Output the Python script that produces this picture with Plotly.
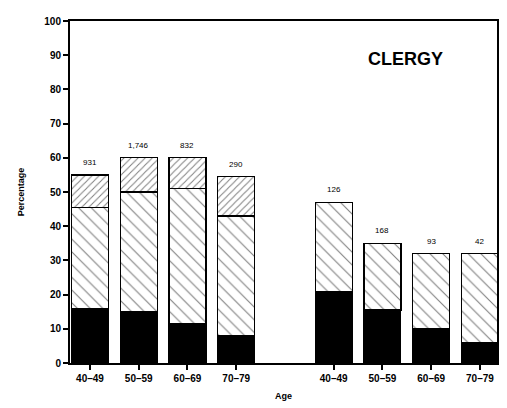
import plotly.graph_objects as go

# Data
positions = [0, 1, 2, 3, 5, 6, 7, 8]
age_labels = ["40–49", "50–59", "60–69", "70–79", "40–49", "50–59", "60–69", "70–79"]
solid = [16, 15, 11.5, 8, 21, 15.5, 10, 6]
back_hatch = [29.5, 35, 39.5, 35, 26, 19.5, 22, 26]
fwd_hatch = [9.5, 10, 9, 11.5, 0, 0, 0, 0]
counts = ["931", "1,746", "832", "290", "126", "168", "93", "42"]
y_ticks = [0, 10, 20, 30, 40, 50, 60, 70, 80, 90, 100]

totals = [a + b + c for a, b, c in zip(solid, back_hatch, fwd_hatch)]

FONT = "Liberation Sans, Arial, sans-serif"
W = 0.76

fig = go.Figure()
fig.add_trace(go.Bar(
    x=positions, y=solid, width=W,
    marker=dict(color="black", line=dict(color="black", width=1)),
    showlegend=False,
))
fig.add_trace(go.Bar(
    x=positions, y=back_hatch, width=W,
    marker=dict(color="white", line=dict(color="black", width=1.2),
                pattern=dict(shape="\\", fgcolor="black", bgcolor="white",
                             size=9, solidity=0.12)),
    showlegend=False,
))
fig.add_trace(go.Bar(
    x=positions, y=fwd_hatch, width=W,
    marker=dict(color="white", line=dict(color="black", width=1.2),
                pattern=dict(shape="/", fgcolor="black", bgcolor="white",
                             size=5, solidity=0.2)),
    showlegend=False,
))

annotations = [dict(
    text="CLERGY", x=0.785, y=0.89, xref="paper", yref="paper",
    xanchor="center", yanchor="middle",
    showarrow=False, font=dict(family=FONT, size=18, color="black", weight="bold"),
)]
for xp, tot, c in zip(positions, totals, counts):
    annotations.append(dict(
        x=xp, y=tot, xref="x", yref="y", text=c, showarrow=False,
        xanchor="center", yanchor="bottom", yshift=6,
        font=dict(family=FONT, size=8, color="black"),
    ))

# page body has an 8px margin; compensate so the plot area lands where the reference has it
fig.update_layout(
    width=499, height=400,
    margin=dict(l=62, r=10, t=7, b=45),
    barmode="stack",
    plot_bgcolor="white", paper_bgcolor="white",
    font=dict(family=FONT, color="black"),
    annotations=annotations,
)
fig.update_xaxes(
    range=[-0.41, 8.35],
    tickmode="array", tickvals=positions, ticktext=age_labels,
    ticks="outside", ticklen=5, tickwidth=1.5, tickcolor="black",
    tickfont=dict(family=FONT, size=10, color="black", weight="bold"),
    showline=True, linecolor="black", linewidth=2, mirror=True,
    showgrid=False, zeroline=False,
    title=dict(text="Age", font=dict(family=FONT, size=9, weight="bold"), standoff=10),
)
fig.update_yaxes(
    range=[0, 100],
    tickmode="array", tickvals=y_ticks,
    ticks="outside", ticklen=5, tickwidth=1.5, tickcolor="black",
    tickfont=dict(family=FONT, size=10, color="black", weight="bold"),
    showline=True, linecolor="black", linewidth=2, mirror=True,
    showgrid=False, zeroline=False,
    title=dict(text="Percentage", font=dict(family=FONT, size=9, weight="bold"), standoff=18),
)

fig.write_html("out.html")
